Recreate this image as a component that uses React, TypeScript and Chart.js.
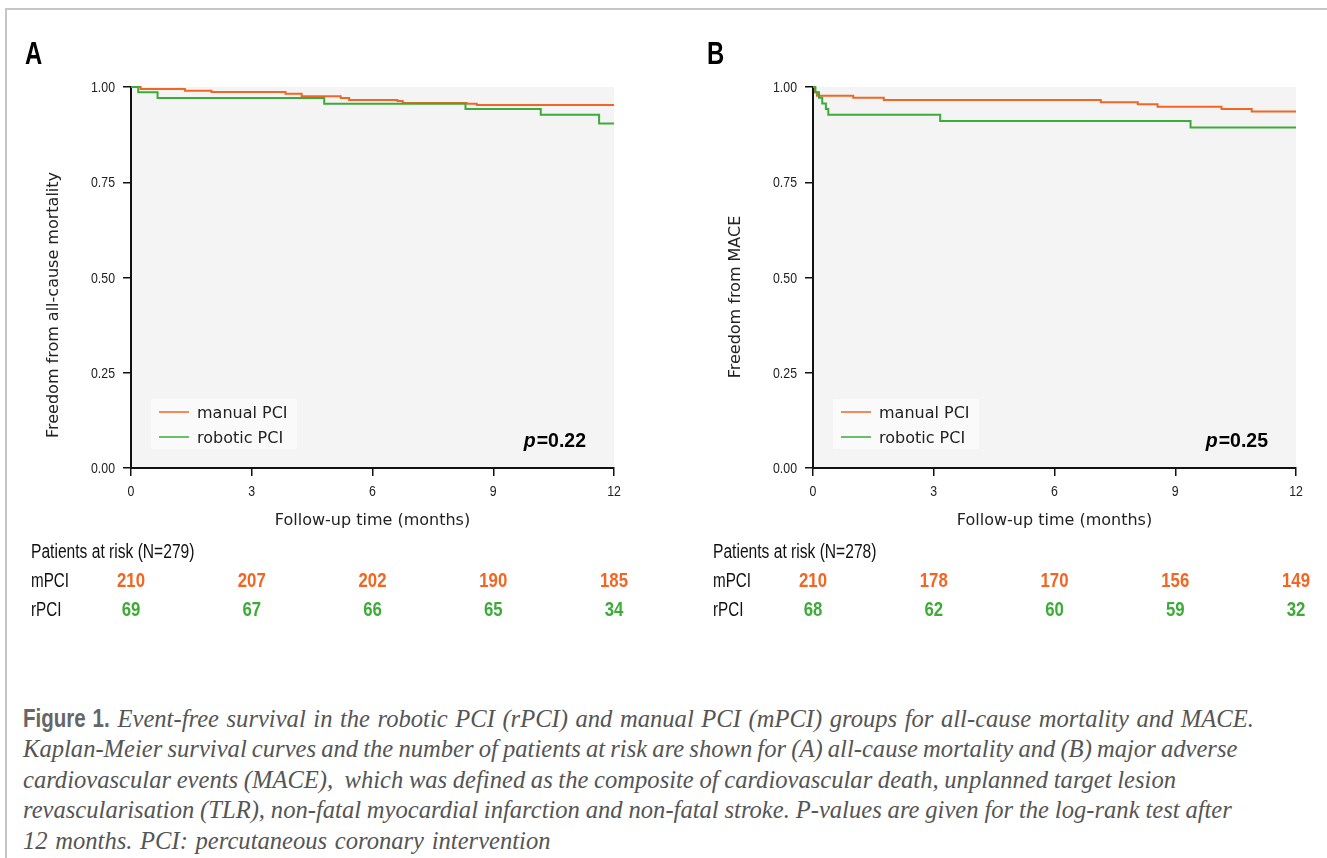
import React, { useEffect, useRef } from "react";
import { Chart, registerables } from "chart.js";

Chart.register(...registerables);

// ---------- data ----------
const riskMonths = [0, 3, 6, 9, 12];

// Panel A: all-cause mortality
const mortManualT = [0, 0.24, 1.34, 2.0, 3.84, 4.24, 5.21, 5.42, 6.62, 6.75, 8.34, 8.59, 12];
const mortManualS = [1.0, 0.995, 0.99, 0.987, 0.982, 0.976, 0.971, 0.966, 0.963, 0.958, 0.956, 0.953, 0.953];
const mortRoboticT = [0, 0.18, 0.66, 4.8, 8.31, 10.18, 11.63, 12];
const mortRoboticS = [1.0, 0.986, 0.971, 0.956, 0.942, 0.927, 0.904, 0.904];
const mortRiskManual = [210, 207, 202, 190, 185];
const mortRiskRobotic = [69, 67, 66, 65, 34];

// Panel B: MACE
const maceManualT = [0, 0.05, 0.1, 1.0, 1.76, 7.15, 8.07, 8.56, 10.15, 10.9, 12];
const maceManualS = [1.0, 0.986, 0.977, 0.972, 0.966, 0.96, 0.955, 0.948, 0.942, 0.936, 0.936];
const maceRoboticT = [0, 0.06, 0.15, 0.23, 0.32, 0.38, 3.16, 9.38, 12];
const maceRoboticS = [1.0, 0.986, 0.972, 0.957, 0.942, 0.927, 0.911, 0.894, 0.894];
const maceRiskManual = [210, 178, 170, 156, 149];
const maceRiskRobotic = [68, 62, 60, 59, 32];

const seriesLabels = ["manual PCI", "robotic PCI"];
const rowLabels = ["mPCI", "rPCI"];

const ORANGE = "#f26522";
const GREEN = "#3dab38";
const BASE = '"Liberation Sans", Arial, sans-serif';
const SANS = '"DejaVu Sans", Verdana, sans-serif';

const captionFirst = "Event-free survival in the robotic PCI (rPCI) and manual PCI (mPCI) groups for all-cause mortality and MACE.";
const captionLines = [
  "Kaplan-Meier survival curves and the number of patients at risk are shown for (A) all-cause mortality and (B) major adverse",
  "cardiovascular events (MACE),  which was defined as the composite of cardiovascular death, unplanned target lesion",
  "revascularisation (TLR), non-fatal myocardial infarction and non-fatal stroke. P-values are given for the log-rank test after",
  "12 months. PCI: percutaneous coronary intervention",
];
const captionWordSpacing = [-1, -0.5, -0.3, 1.5];

type PanelSpec = {
  letter: string;
  yTitle: string;
  yTitleCenter: number;
  pText: string;
  nText: string;
  manualT: number[];
  manualS: number[];
  roboticT: number[];
  roboticS: number[];
  riskManual: number[];
  riskRobotic: number[];
  padding: { left: number; top: number; right: number; bottom: number };
};

function toPoints(t: number[], s: number[]) {
  return t.map((x, i) => ({ x, y: s[i] }));
}

// draw horizontally condensed text (emulates a condensed typeface)
function cText(
  ctx: CanvasRenderingContext2D,
  text: string,
  x: number,
  y: number,
  font: string,
  align: "left" | "center" | "right",
  sx: number
) {
  ctx.save();
  ctx.font = font;
  const w = ctx.measureText(text).width * sx;
  const left = align === "center" ? x - w / 2 : align === "right" ? x - w : x;
  ctx.translate(left, y);
  ctx.scale(sx, 1);
  ctx.textAlign = "left";
  ctx.fillText(text, 0, 0);
  ctx.restore();
  return w;
}

function makePlugin(p: PanelSpec) {
  return {
    id: "panelDecor",
    beforeDraw(chart: any) {
      const { ctx, chartArea: a } = chart;
      ctx.save();
      ctx.fillStyle = "#f4f4f4";
      ctx.fillRect(a.left, a.top, a.right - a.left, a.bottom - a.top);
      ctx.restore();
    },
    afterDraw(chart: any) {
      const { ctx, chartArea: a } = chart;
      const xs = chart.scales.x;
      const ys = chart.scales.y;
      ctx.save();
      ctx.textBaseline = "alphabetic";

      // tick labels (from the library's scales)
      ctx.fillStyle = "#222";
      ys.ticks.forEach((t: any) => {
        const y = ys.getPixelForValue(t.value);
        cText(ctx, Number(t.value).toFixed(2), a.left - 16, y + 5, `14px ${BASE}`, "right", 0.88);
      });
      xs.ticks.forEach((t: any) => {
        const x = xs.getPixelForValue(t.value);
        cText(ctx, String(t.value), x, a.bottom + 28, `14px ${BASE}`, "center", 0.88);
      });

      // panel letter
      ctx.fillStyle = "#000";
      cText(ctx, p.letter, a.left - 106, 64, `bold 31px ${BASE}`, "left", 0.77);

      // y title
      ctx.save();
      ctx.translate(a.left - 73, p.yTitleCenter);
      ctx.rotate(-Math.PI / 2);
      ctx.font = `16px ${SANS}`;
      ctx.fillStyle = "#222";
      ctx.textAlign = "center";
      ctx.fillText(p.yTitle, 0, 0);
      ctx.restore();

      // x title
      ctx.font = `16px ${SANS}`;
      ctx.fillStyle = "#222";
      ctx.textAlign = "center";
      ctx.fillText("Follow-up time (months)", (a.left + a.right) / 2, a.bottom + 57);

      // legend
      const lx = a.left + 20;
      const ly = a.bottom - 69;
      ctx.fillStyle = "#fafafa";
      ctx.fillRect(lx, ly, 146, 50);
      const ds = chart.data.datasets;
      [0, 1].forEach((i, k) => {
        const yLine = a.bottom - 56 + k * 25;
        ctx.strokeStyle = ds[i].borderColor;
        ctx.lineWidth = 1.5;
        ctx.beginPath();
        ctx.moveTo(a.left + 28, yLine);
        ctx.lineTo(a.left + 58, yLine);
        ctx.stroke();
        ctx.fillStyle = "#222";
        ctx.textAlign = "left";
        ctx.font = `16px ${SANS}`;
        ctx.fillText(ds[i].label, a.left + 66, a.bottom - 50 + k * 25);
      });

      // p value
      ctx.fillStyle = "#000";
      const rx = a.right - 28;
      const by = a.bottom - 21;
      const w = cText(ctx, "=" + p.pText, rx, by, `bold 20.5px ${BASE}`, "right", 0.95);
      cText(ctx, "p", rx - w - 1, by, `italic bold 20.5px ${BASE}`, "right", 0.95);

      // patients at risk
      ctx.textBaseline = "middle";
      ctx.fillStyle = "#111";
      cText(ctx, `Patients at risk (N=${p.nText})`, a.left - 100, 553, `19.5px ${BASE}`, "left", 0.8);
      cText(ctx, rowLabels[0], a.left - 100, 582, `19.5px ${BASE}`, "left", 0.78);
      cText(ctx, rowLabels[1], a.left - 100, 611, `19.5px ${BASE}`, "left", 0.78);
      riskMonths.forEach((m, i) => {
        const x = xs.getPixelForValue(m);
        ctx.fillStyle = ORANGE;
        cText(ctx, String(p.riskManual[i]), x, 582, `bold 19.5px ${BASE}`, "center", 0.86);
        ctx.fillStyle = GREEN;
        cText(ctx, String(p.riskRobotic[i]), x, 611, `bold 19.5px ${BASE}`, "center", 0.86);
      });
      ctx.restore();
    },
  };
}

function Panel({ spec, left, width }: { spec: PanelSpec; left: number; width: number }) {
  const ref = useRef<HTMLCanvasElement | null>(null);
  useEffect(() => {
    if (!ref.current) return;
    const chart = new Chart(ref.current, {
      type: "line",
      data: {
        datasets: [
          {
            label: seriesLabels[0],
            data: toPoints(spec.manualT, spec.manualS),
            borderColor: ORANGE,
            borderWidth: 2,
            pointRadius: 0,
            stepped: "before",
            fill: false,
            order: 2,
            clip: false,
          },
          {
            label: seriesLabels[1],
            data: toPoints(spec.roboticT, spec.roboticS),
            borderColor: GREEN,
            borderWidth: 2,
            pointRadius: 0,
            stepped: "before",
            fill: false,
            order: 1,
            clip: false,
          },
        ],
      },
      options: {
        animation: false,
        responsive: false,
        maintainAspectRatio: false,
        devicePixelRatio: 1,
        layout: { padding: spec.padding },
        plugins: { legend: { display: false }, tooltip: { enabled: false } },
        scales: {
          x: {
            type: "linear",
            min: 0,
            max: 12,
            afterFit: (s: any) => {
              s.height = 42;
            },
            ticks: { stepSize: 3, display: false },
            grid: { drawOnChartArea: false, drawTicks: true, tickLength: 8, color: "#111", lineWidth: 1.5 },
            border: { display: true, color: "#111", width: 2 },
          },
          y: {
            type: "linear",
            min: 0,
            max: 1,
            afterFit: (s: any) => {
              s.width = 31;
            },
            ticks: { stepSize: 0.25, display: false },
            grid: { drawOnChartArea: false, drawTicks: true, tickLength: 8, color: "#111", lineWidth: 1.5 },
            border: { display: true, color: "#111", width: 2 },
          },
        },
      },
      plugins: [makePlugin(spec)],
    } as any);
    return () => chart.destroy();
  }, [spec]);
  return (
    <canvas
      ref={ref}
      width={width}
      height={680}
      style={{ position: "absolute", left, top: 0, width, height: 680 }}
    />
  );
}

const specA: PanelSpec = {
  letter: "A",
  yTitle: "Freedom from all-cause mortality",
  yTitleCenter: 305,
  pText: "0.22",
  nText: "279",
  manualT: mortManualT,
  manualS: mortManualS,
  roboticT: mortRoboticT,
  roboticS: mortRoboticS,
  riskManual: mortRiskManual,
  riskRobotic: mortRiskRobotic,
  padding: { left: 100, top: 87, right: 49, bottom: 170 },
};

const specB: PanelSpec = {
  letter: "B",
  yTitle: "Freedom from MACE",
  yTitleCenter: 297,
  pText: "0.25",
  nText: "278",
  manualT: maceManualT,
  manualS: maceManualS,
  roboticT: maceRoboticT,
  roboticS: maceRoboticS,
  riskManual: maceRiskManual,
  riskRobotic: maceRiskRobotic,
  padding: { left: 102, top: 87, right: 31, bottom: 170 },
};

export default function App() {
  const lineStyle: React.CSSProperties = {
    position: "absolute",
    left: 23,
    whiteSpace: "pre",
    fontFamily: '"Liberation Serif", "Times New Roman", serif',
    fontStyle: "italic",
    fontSize: 24.6,
    lineHeight: "30px",
    color: "#555",
  };
  return (
    <div
      style={{
        position: "fixed",
        left: 0,
        top: 0,
        width: 1327,
        height: 858,
        overflow: "hidden",
        background: "#fff",
      }}
    >
      <div
        style={{
          position: "absolute",
          left: 5,
          top: 8,
          width: 1400,
          height: 900,
          borderTop: "2px solid #c6c6c6",
          borderLeft: "2px solid #c6c6c6",
        }}
      />
      <Panel spec={specA} left={0} width={663} />
      <Panel spec={specB} left={680} width={647} />
      <div style={{ ...lineStyle, top: 703, wordSpacing: 1.4 }}>
        <span
          style={{
            display: "inline-block",
            fontFamily: BASE,
            fontStyle: "normal",
            fontWeight: "bold",
            fontSize: 25,
            color: "#666",
            transform: "scaleX(0.82)",
            transformOrigin: "0 50%",
            marginRight: -18.7,
          }}
        >
          Figure 1.
        </span>{" "}
        {captionFirst}
      </div>
      {captionLines.map((t, i) => (
        <div key={i} style={{ ...lineStyle, top: 734 + i * 30.5, wordSpacing: captionWordSpacing[i] }}>
          {t}
        </div>
      ))}
    </div>
  );
}
